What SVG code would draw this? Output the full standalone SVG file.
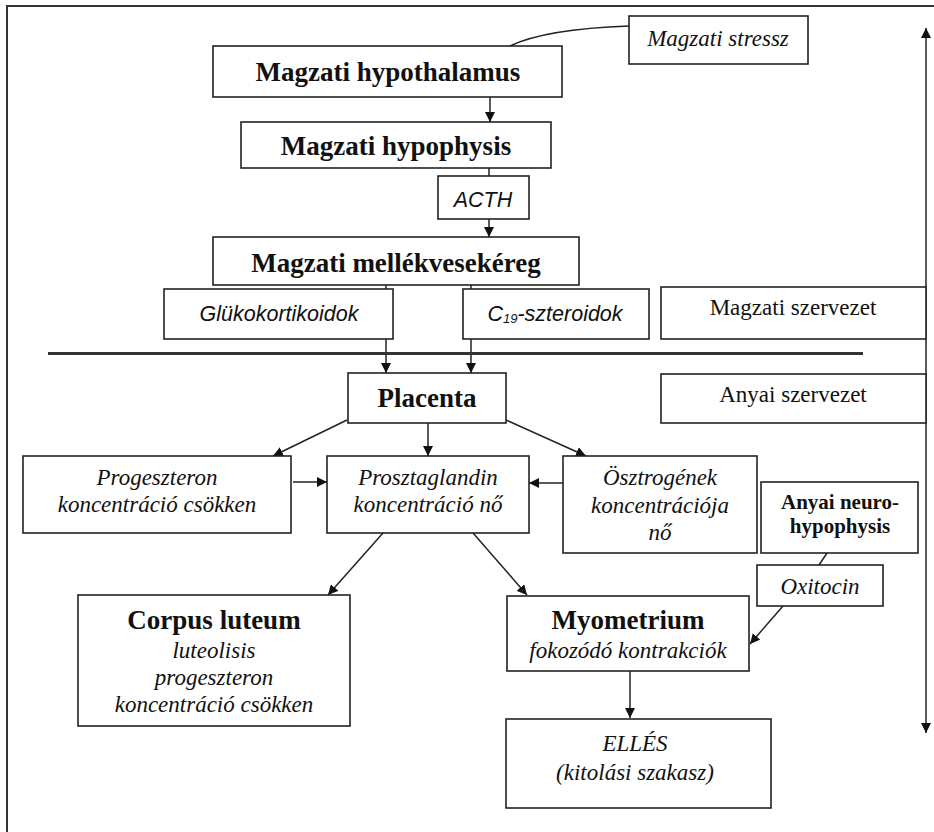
<svg xmlns="http://www.w3.org/2000/svg" width="934" height="832" viewBox="0 0 934 832">
<defs>
<marker id="ah" viewBox="0 0 10 10" markerUnits="userSpaceOnUse" markerWidth="10" markerHeight="10" refX="10" refY="5" orient="auto-start-reverse">
<path d="M0,0 L10,5 L0,10 z" fill="#111"/>
</marker>
<style>
.box{fill:#fff;stroke:#222;stroke-width:1.6}
.ln{fill:none;stroke:#222;stroke-width:1.5}
.ar{fill:none;stroke:#222;stroke-width:1.5;marker-end:url(#ah)}
text{font-family:"Liberation Serif","Times New Roman",serif;fill:#111;text-anchor:middle}
.b{font-weight:bold;font-size:27px}
.b2{font-weight:bold;font-size:21px}
.i{font-style:italic;font-size:23px}
.r{font-size:23px}
.s{font-family:"Liberation Sans",Arial,sans-serif;font-style:italic;font-size:21.5px}
</style>
</defs>
<rect width="934" height="832" fill="#fff"/>
<path d="M7,840 V6 H934" fill="none" stroke="#333" stroke-width="2"/>

<g id="connectors">
<path class="ln" d="M510,46 Q545,29 629,26"/>
<path class="ar" d="M490,97 V122"/>
<path class="ln" d="M489,168 V176"/>
<path class="ar" d="M489,219 V237"/>
<path class="ar" d="M386,285 V373"/>
<path class="ar" d="M471,285 V373"/>
<path class="ar" d="M347,420 L273,456"/>
<path class="ar" d="M428,423 V456"/>
<path class="ar" d="M506,420 L586,456"/>
<path class="ar" d="M293,482 H327"/>
<path class="ar" d="M563,483 H529"/>
<path class="ar" d="M383,533 L328,595"/>
<path class="ar" d="M473,533 L527,595"/>
<path class="ln" d="M827,553 L819,565"/>
<path class="ar" d="M783,606 L750,644"/>
<path class="ar" d="M630,671 V718"/>
<path class="ar" d="M926,28 V733" style="marker-start:url(#ah)"/>
</g>
<line x1="48" y1="353.5" x2="863" y2="353.5" stroke="#333" stroke-width="3"/>

<g id="stressz"><rect class="box" x="629" y="16" width="179" height="48"/><text class="i" x="718" y="46">Magzati stressz</text></g>
<g id="hypothalamus"><rect class="box" x="213" y="46" width="349" height="51"/><text class="b" x="388" y="81">Magzati hypothalamus</text></g>
<g id="hypophysis"><rect class="box" x="241" y="122" width="310" height="46"/><text class="b" x="396" y="155">Magzati hypophysis</text></g>
<g id="acth"><rect class="box" x="438" y="176" width="91" height="43"/><text class="s" x="483" y="207" font-size="18.5">ACTH</text></g>
<g id="mellekvese"><rect class="box" x="213" y="237" width="366" height="48"/><text class="b" x="396" y="272">Magzati mellékvesekéreg</text></g>
<g id="gluko"><rect class="box" x="164" y="289" width="229" height="50"/><text class="s" x="279" y="321">Glükokortikoidok</text></g>
<g id="c19"><rect class="box" x="463" y="289" width="186" height="50"/><text class="s" x="555" y="321">C<tspan font-size="13" dy="2">19</tspan><tspan dy="-2">-szteroidok</tspan></text></g>
<g id="magzati-szervezet"><rect class="box" x="661" y="287" width="265" height="52"/><text class="r" x="793" y="315">Magzati szervezet</text></g>
<g id="anyai-szervezet"><rect class="box" x="661" y="374" width="265" height="49"/><text class="r" x="793" y="402">Anyai szervezet</text></g>
<g id="placenta"><rect class="box" x="348" y="373" width="158" height="50"/><text class="b" x="427" y="407">Placenta</text></g>
<g id="progeszteron"><rect class="box" x="23" y="456" width="268" height="77"/><text class="i" x="157" y="485">Progeszteron</text><text class="i" x="157" y="512">koncentráció csökken</text></g>
<g id="prosztaglandin"><rect class="box" x="327" y="456" width="202" height="77"/><text class="i" x="428" y="485">Prosztaglandin</text><text class="i" x="428" y="512">koncentráció nő</text></g>
<g id="osztrogenek"><rect class="box" x="563" y="456" width="194" height="97"/><text class="i" x="660" y="485">Ösztrogének</text><text class="i" x="660" y="513">koncentrációja</text><text class="i" x="660" y="540">nő</text></g>
<g id="neurohypophysis"><rect class="box" x="761" y="482" width="157" height="71"/><text class="b2" x="840" y="509">Anyai neuro-</text><text class="b2" x="840" y="533">hypophysis</text></g>
<g id="oxitocin"><rect class="box" x="757" y="565" width="126" height="41"/><text class="i" x="820" y="594">Oxitocin</text></g>
<g id="corpus"><rect class="box" x="78" y="595" width="272" height="131"/><text class="b" x="214" y="629">Corpus luteum</text><text class="i" x="214" y="658">luteolisis</text><text class="i" x="214" y="685">progeszteron</text><text class="i" x="214" y="712">koncentráció csökken</text></g>
<g id="myometrium"><rect class="box" x="507" y="596" width="242" height="75"/><text class="b" x="628" y="629">Myometrium</text><text class="i" x="628" y="658">fokozódó kontrakciók</text></g>
<g id="elles"><rect class="box" x="506" y="719" width="265" height="89"/><text class="i" x="635" y="751" font-size="25">ELLÉS</text><text class="i" x="635" y="780">(kitolási szakasz)</text></g>
</svg>
